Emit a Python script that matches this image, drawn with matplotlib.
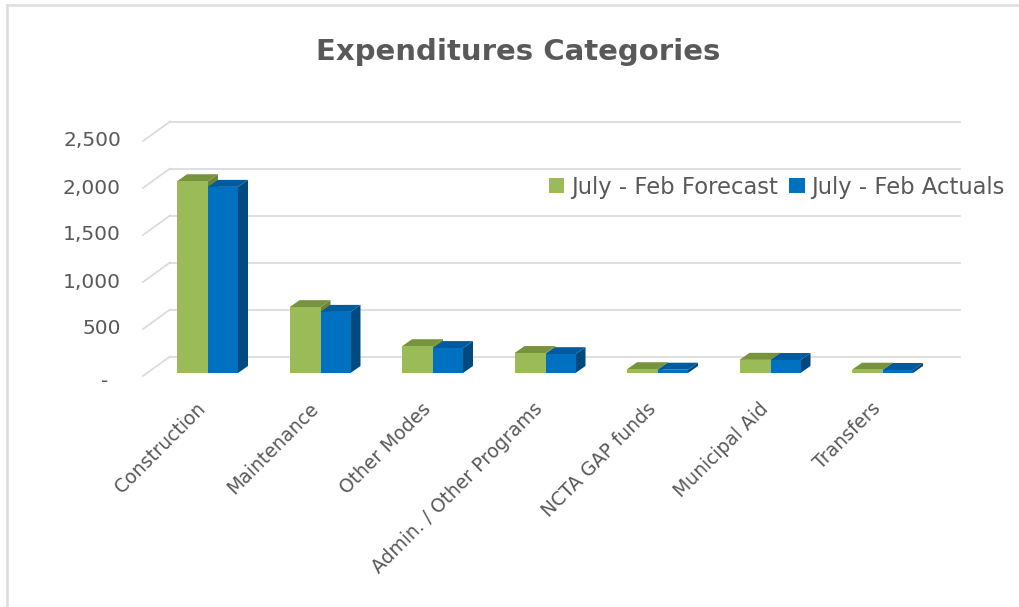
import numpy as np
import matplotlib.pyplot as plt
from matplotlib.patches import Patch, Polygon

# ---- data ----
categories = ["Construction", "Maintenance", "Other Modes", "Admin. / Other Programs",
              "NCTA GAP funds", "Municipal Aid", "Transfers"]
forecast = [2040, 700, 285, 212, 40, 140, 35]
actuals = [1980, 650, 265, 200, 35, 138, 32]
yticks = [0, 500, 1000, 1500, 2000, 2500]
ytick_labels = ["-", "500", "1,000", "1,500", "2,000", "2,500"]
series_names = ["July - Feb Forecast", "July - Feb Actuals"]

# ---- styling ----
W, H = 1019, 607
PX = 112.5      # pixels per category
PY = 0.094      # pixels per value unit
X0, Y0 = 208, 376   # pixel of category 0 / value 0 (front plane)
TXT = "#595959"
GRID = "#D9D9D9"
green = ("#9BBB59", "#77933C", "#6A8535")   # front, top, side
blue = ("#0070C0", "#005A9E", "#004A80")

plt.rcParams['font.family'] = ['DejaVu Sans']


def px_x(p):
    return (p - X0) / PX


def px_y(p):
    return (Y0 - p) / PY


def dx(p):
    return p / PX


def dy(p):
    return p / PY


fig = plt.figure(figsize=(W / 100, H / 100), dpi=100)
ax = fig.add_axes([0, 0, 1, 1])
ax.set_xlim(px_x(0), px_x(W))
ax.set_ylim(px_y(H), px_y(0))
ax.axis("off")

# chart border (top + left visible)
ax.plot([px_x(7), px_x(W)], [px_y(5), px_y(5)], color="#DDDDDD", lw=1.8)
ax.plot([px_x(7), px_x(7)], [px_y(5), px_y(H)], color="#DDDDDD", lw=1.8)

# back wall gridlines + left side wall diagonals
wall_dx, wall_dy = dx(27), dy(19.5)
for g in yticks:
    ax.plot([px_x(170), px_x(960)], [g + wall_dy, g + wall_dy], color=GRID, lw=1.2, zorder=1)
    ax.plot([px_x(143), px_x(170)], [g, g + wall_dy], color=GRID, lw=1.2, zorder=1)

# y tick labels
for g, lab in zip(yticks, ytick_labels):
    if lab == "-":
        ax.text(px_x(108), g - dy(5), lab, ha="right", va="center", fontsize=14.5, color=TXT)
    else:
        ax.text(px_x(121), g, lab, ha="right", va="center", fontsize=14.5, color=TXT)


# pseudo-3D bars
base = dy(3)
bdx, bdy = dx(10), dy(7)


def bar3d(xl, xr, v, cols):
    top = base + v
    front = Polygon([(xl, base), (xr, base), (xr, top), (xl, top)], closed=True,
                    facecolor=cols[0], edgecolor="none", zorder=3)
    roof = Polygon([(xl, top), (xr, top), (xr + bdx, top + bdy), (xl + bdx, top + bdy)],
                   closed=True, facecolor=cols[1], edgecolor="none", zorder=3)
    side = Polygon([(xr, base), (xr + bdx, base + bdy), (xr + bdx, top + bdy), (xr, top)],
                   closed=True, facecolor=cols[2], edgecolor="none", zorder=3)
    for p in (side, roof, front):
        ax.add_patch(p)


w1, w2 = dx(31), dx(30)
for i, (f, a) in enumerate(zip(forecast, actuals)):
    bar3d(i - w1, i, f, green)
    bar3d(i, i + w2, a, blue)

# category labels
for i, c in enumerate(categories):
    ax.text(i - dx(12), px_y(399), c, rotation=45, rotation_mode="anchor",
            ha="right", va="top", fontsize=13.5, color=TXT)

# title
ax.text(px_x(518), px_y(52), "Expenditures Categories", ha="center", va="center",
        fontsize=21, fontweight="bold", color=TXT)

# legend
handles = [Patch(facecolor=green[0], edgecolor="none"),
           Patch(facecolor=blue[0], edgecolor="none")]
ax.legend(handles, series_names, loc="center left",
          bbox_to_anchor=(549 / W, 1 - 187 / H), bbox_transform=fig.transFigure,
          ncol=2, frameon=False, fontsize=16.3, labelcolor=TXT,
          handlelength=0.68, handleheight=0.68, handletextpad=0.3,
          columnspacing=0.5, borderpad=0, borderaxespad=0)

fig.savefig("out.png", dpi=100)
